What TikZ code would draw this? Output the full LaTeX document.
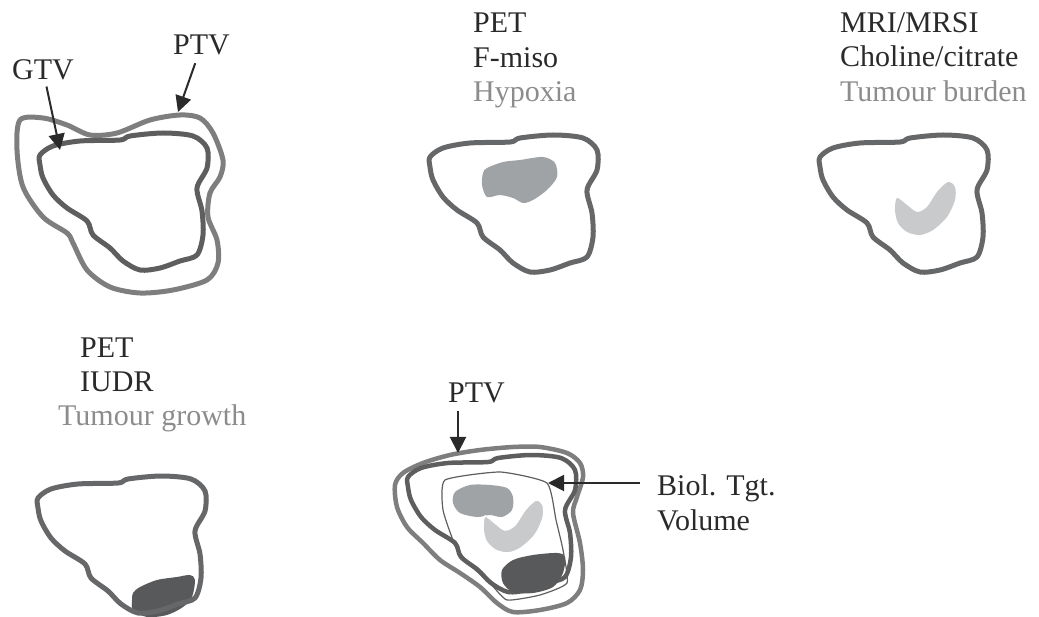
\documentclass[tikz,border=0pt]{standalone}
\usepackage{fontspec}
\setmainfont{Liberation Serif}
\usetikzlibrary{arrows.meta, positioning}
\definecolor{Ink}{HTML}{2A2A2A}
\definecolor{SoftGray}{HTML}{8C8C8C}
\definecolor{ContourGray}{HTML}{666769}
\definecolor{PtvGray}{HTML}{7E7E7E}
\definecolor{GtvGray}{HTML}{5E5E5E}
\definecolor{HypoxiaFill}{HTML}{A0A3A6}
\definecolor{BurdenFill}{HTML}{C9CACC}
\definecolor{GrowthFill}{HTML}{58595B}
\tikzset{
  tumour/.style={draw=ContourGray, line width=5pt, line join=round},
  ptvline/.style={draw=PtvGray, line width=5pt, line join=round},
  gtvline/.style={draw=GtvGray, line width=5pt, line join=round},
  btvline/.style={draw=GtvGray, line width=1.2pt, line join=round},
  lab/.style={font=\fontsize{30}{34}\selectfont, text=Ink, anchor=base west,
              inner sep=0pt},
  sublab/.style={lab, text=SoftGray},
  ptr/.style={-{Triangle[length=16pt, width=16pt]}, line width=2pt, draw=Ink},
}
% one hand-drawn outline, re-used for every panel (local origin at its top-left)
\newcommand{\tumouroutline}{plot[smooth cycle] coordinates {
  (0,22) (13,13) (40,8) (80,7) (90,3) (123,0) (153,3) (167,15) (167,35)
  (157,55) (162,78) (163,102) (157,122) (140,128) (120,135) (100,137)
  (83,128) (70,115) (53,102) (47,88) (27,75) (13,62) (3,45) (0,32)}}
\newcommand{\hypoxiablob}{plot[smooth cycle] coordinates {
  (57,33) (73,27) (90,25) (113,22) (125,28) (127,42) (117,55) (103,65)
  (93,68) (83,63) (70,60) (57,62) (52,50) (53,38)}}
\newcommand{\burdenblob}{plot[smooth cycle] coordinates {
  (77,63) (87,70) (97,77) (107,72) (117,57) (128,47) (135,52) (135,65)
  (127,82) (113,95) (100,100) (87,97) (78,88) (75,75)}}
\newcommand{\growthblob}{plot[smooth cycle] coordinates {
  (95,117) (102,111) (119,104) (139,101) (152,99) (157,104) (154,121)
  (145,131) (129,139) (109,141) (95,134) (94,124)}}

\begin{document}
\begin{tikzpicture}[x=1pt, y=-1pt]
  \useasboundingbox (0,0) rectangle (1039,617);

  % GTV / PTV panel
  \draw[ptvline] plot[smooth cycle] coordinates {
    (20,120) (43,118) (67,125) (90,135) (117,133) (150,120) (180,115)
    (200,118) (213,133) (223,160) (220,177) (210,193) (208,217) (217,240)
    (218,263) (207,280) (173,290) (140,293) (110,287) (87,270) (73,243)
    (67,233) (43,217) (23,187) (17,150)};
  \draw[gtvline, shift={(40,133)}] \tumouroutline;
  \node[lab] (gtvlab) at (12,80) {GTV};
  \node[lab] (ptvtop) at (173,55) {PTV};
  \coordinate (gtvtip) at (60,150);
  \coordinate (ptvtip) at (178,112);
  \draw[ptr, shorten <=6pt] (gtvlab) -- (gtvtip);
  \draw[ptr, shorten <=8pt] (ptvtop) -- (ptvtip);

  % hypoxia panel
  \begin{scope}[shift={(430,135)}]
    \fill[HypoxiaFill] \hypoxiablob;
    \draw[tumour] \tumouroutline;
  \end{scope}
  \node[lab] (petmiso) at (473,33) {PET};
  \node[lab] (fmiso) at (473,68) {F-miso};
  \node[sublab] (hypoxia) at (473,102) {Hypoxia};

  % tumour burden panel
  \begin{scope}[shift={(820,135)}]
    \fill[BurdenFill] \burdenblob;
    \draw[tumour] \tumouroutline;
  \end{scope}
  \node[lab] (mrsi) at (840,33) {MRI/MRSI};
  \node[lab] (choline) at (840,67) {Choline/citrate};
  \node[sublab] (burden) at (840,102) {Tumour burden};

  % tumour growth panel
  \begin{scope}[shift={(38,476)}]
    \fill[GrowthFill] \growthblob;
    \draw[tumour] \tumouroutline;
  \end{scope}
  \node[lab] (petiudr) at (80,358) {PET};
  \node[lab] (iudr) at (80,392) {IUDR};
  \node[sublab] (growth) at (58,426) {Tumour growth};

  % combined panel
  \draw[ptvline, line width=4.5pt] plot[smooth cycle] coordinates {
    (395,485) (403,473) (423,463) (450,455) (480,450) (513,447) (540,447)
    (567,453) (580,463) (583,477) (577,497) (573,513) (580,543) (583,570)
    (580,590) (567,603) (540,610) (513,612) (497,603) (480,587) (460,573)
    (440,560) (423,543) (407,527) (397,507)};
  \draw[gtvline, line width=4.5pt, shift={(408,455)}] \tumouroutline;
  \draw[btvline] plot[smooth cycle, tension=0.3] coordinates {
    (445,480) (500,472) (547,483) (556,520) (563,550) (567,583) (540,595)
    (507,600) (490,583) (470,565) (455,545) (443,510)};
  \fill[HypoxiaFill] plot[smooth cycle] coordinates {
    (455,492) (470,485) (490,485) (507,488) (513,497) (512,510) (502,517)
    (490,515) (477,517) (460,513) (453,503)};
  \begin{scope}[shift={(408,453)}]
    \filldraw[fill=BurdenFill, draw=white, line width=1.5pt] \burdenblob;
  \end{scope}
  \fill[GrowthFill] plot[smooth cycle] coordinates {
    (502,570) (513,560) (533,555) (557,553) (565,557) (563,573) (553,587)
    (533,593) (513,592) (503,583)};
  \node[lab] (ptvbot) at (448,403) {PTV};
  \node[lab] (biol) at (657,495) {Biol. Tgt.};
  \node[lab] (volume) at (657,530) {Volume};
  \coordinate (ptvbtip) at (458,453);
  \coordinate (btvtip) at (548,483);
  \draw[ptr, shorten <=7pt] (ptvbot.south -| ptvbtip) -- (ptvbtip);
  \draw[ptr, shorten <=17pt] (biol.west |- btvtip) -- (btvtip);
\end{tikzpicture}
\end{document}
